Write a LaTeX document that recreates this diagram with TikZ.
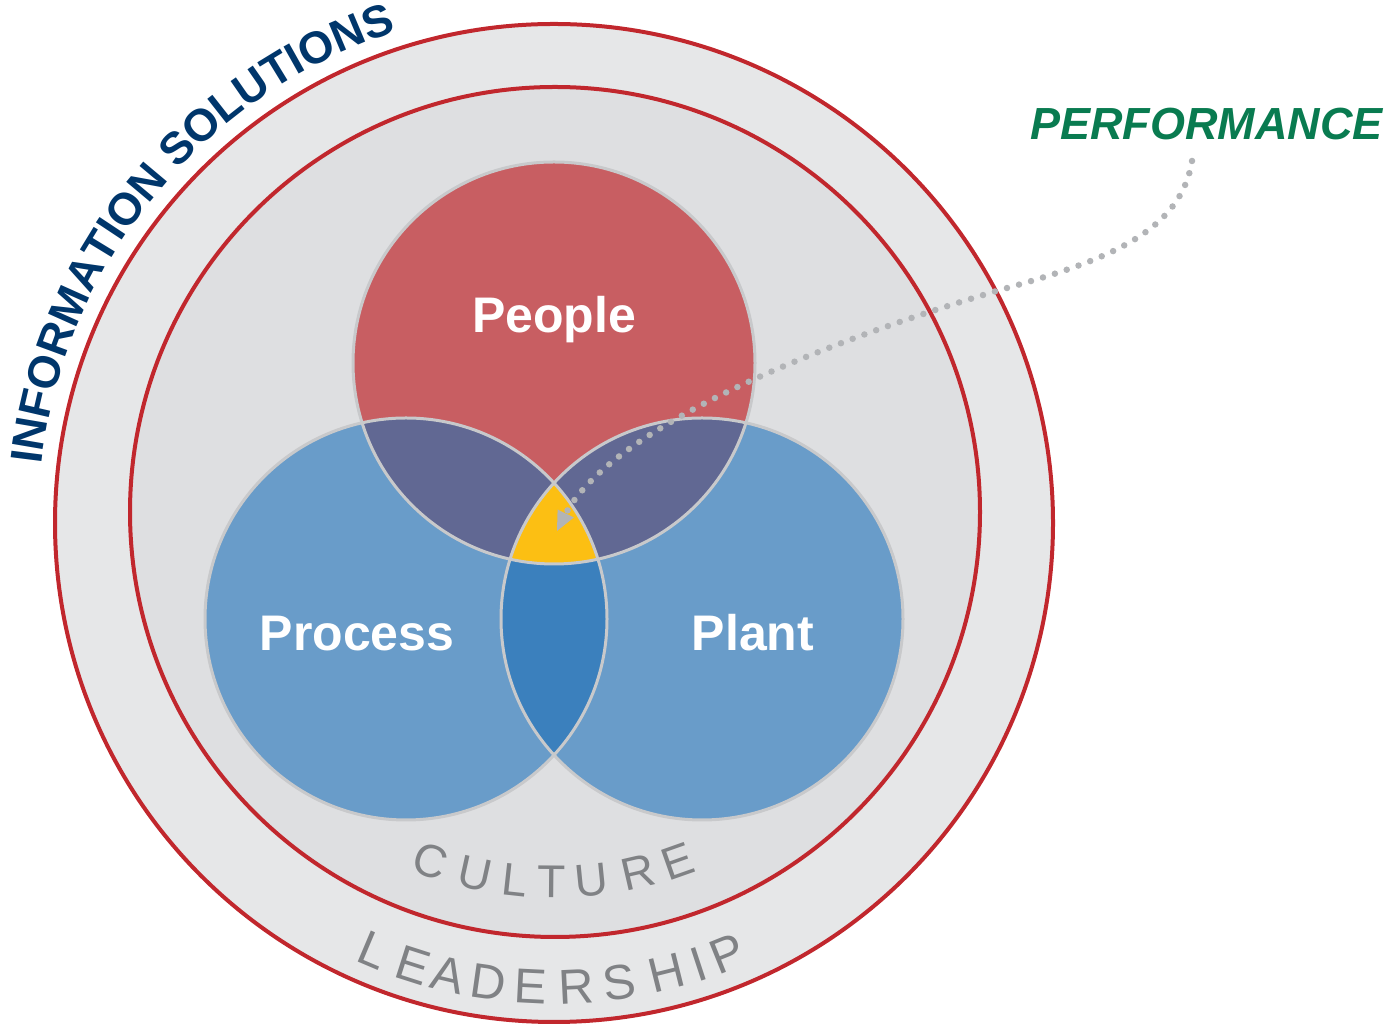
\documentclass[tikz,border=0pt]{standalone}
\usepackage{fontspec}
\setmainfont{Liberation Sans}
\newfontface\infobold{Liberation Sans Bold}
\usetikzlibrary{decorations.text}
\definecolor{ringouter}{HTML}{E6E7E8}
\definecolor{ringinner}{HTML}{DEDFE1}
\definecolor{ringred}{HTML}{C1272D}
\definecolor{peoplered}{HTML}{C85E62}
\definecolor{venblue}{HTML}{699CC9}
\definecolor{venpurple}{HTML}{616893}
\definecolor{vendeep}{HTML}{3B80BD}
\definecolor{venyellow}{HTML}{FCBF13}
\definecolor{venedge}{HTML}{C8C9CB}
\definecolor{navy}{HTML}{00366B}
\definecolor{perfgreen}{HTML}{097B50}
\definecolor{labelgray}{HTML}{808285}
\definecolor{dotgray}{HTML}{B2B4B7}
\begin{document}
\begin{tikzpicture}[x=1pt,y=1pt,
  venlabel/.style={text=white, font=\fontsize{50}{50}\selectfont\bfseries, anchor=base, inner sep=0pt},
  ringletter/.style={text=labelgray, anchor=base, inner sep=0pt},
  redring/.style={draw=ringred, line width=4pt},
  venedgeline/.style={draw=venedge, line width=3pt}]
\useasboundingbox (0,0) rectangle (1389,1024);
\coordinate (oc) at (554,501);
\coordinate (ic) at (555,512);
\coordinate (pc) at (554,661);
\coordinate (prc) at (406,405);
\coordinate (plc) at (702,405);
% rings
\fill[ringouter] (oc) circle[radius=499];
\draw[redring] (oc) circle[radius=499];
\fill[ringinner] (ic) circle[radius=425];
\draw[redring] (ic) circle[radius=425];
% venn fills
\fill[venblue] (prc) circle[radius=201];
\fill[venblue] (plc) circle[radius=201];
\fill[peoplered] (pc) circle[radius=201];
\begin{scope}
  \clip (pc) circle[radius=201];
  \fill[venpurple] (prc) circle[radius=201];
  \fill[venpurple] (plc) circle[radius=201];
\end{scope}
\begin{scope}
  \clip (prc) circle[radius=201];
  \fill[vendeep] (plc) circle[radius=201];
\end{scope}
\begin{scope}
  \clip (pc) circle[radius=201];
  \clip (prc) circle[radius=201];
  \fill[venyellow] (plc) circle[radius=201];
\end{scope}
\draw[venedgeline] (pc) circle[radius=201];
\draw[venedgeline] (prc) circle[radius=201];
\draw[venedgeline] (plc) circle[radius=201];
% labels
\node[venlabel] (people) at (554,691) {People};
\node[venlabel] (process) at (357,373) {Process};
\node[venlabel] (plant) at (753,373) {Plant};
\node[anchor=base west, inner sep=0pt, text=perfgreen, font=\fontsize{45}{45}\selectfont\bfseries\itshape] (perf) at (1030,884) {PERFORMANCE};
% arc texts
\path[decorate, decoration={text along path, text align=left,
  text={|\infobold\fontsize{45}{45}\selectfont\color{navy}|INFORMATION SOLUTIONS}}]
  ([shift={(173.5:516)}]oc) arc[start angle=173.5, end angle=95, radius=516];
\foreach \ch/\ang [count=\i] in {C/250.4, U/257.6, L/263.8, T/269.5, U/275.7, R/283, E/289.4}
  \node[ringletter, font=\fontsize{46}{46}\selectfont, rotate=\ang+90] (cult\i) at ([shift={(\ang:386)}]ic) {\ch};
\foreach \ch/\ang [count=\i] in {L/247.1, E/252.3, A/256.8, D/261.9, E/267.1, R/272.8, S/278.1, H/284, I/288.2, P/291.9}
  \node[ringletter, font=\fontsize{49}{49}\selectfont, rotate=\ang+90] (lead\i) at ([shift={(\ang:481)}]oc) {\ch};
% dotted connector with arrowhead
\coordinate (perfstart) at (1192,863);
\coordinate (arrowback) at (566,511);
\coordinate (core) at (557,493);
\draw[dotgray, line width=6.5pt, line cap=round, dash pattern=on 0pt off 12.5pt]
  (perfstart) .. controls (1180,789) and (1100,762) .. (1000,734)
  .. controls (790,672) and (610,590) .. (arrowback);
\fill[dotgray] (core) -- (573.8,506.5) -- (557.6,514.5) -- cycle;
\end{tikzpicture}
\end{document}
